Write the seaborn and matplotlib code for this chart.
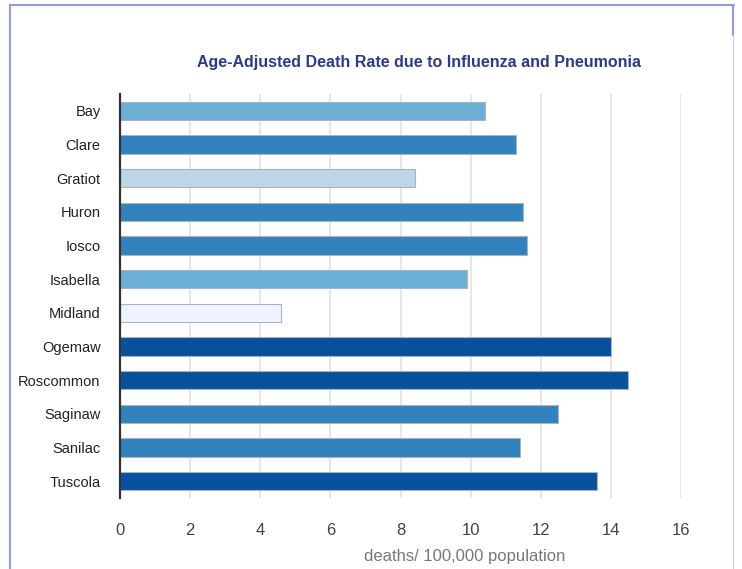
import matplotlib
matplotlib.use("Agg")
import matplotlib.pyplot as plt
import seaborn as sns
import pandas as pd
from matplotlib.lines import Line2D

counties = ["Bay", "Clare", "Gratiot", "Huron", "Iosco", "Isabella", "Midland",
            "Ogemaw", "Roscommon", "Saginaw", "Sanilac", "Tuscola"]
rates = [10.4, 11.3, 8.4, 11.5, 11.6, 9.9, 4.6, 14.0, 14.5, 12.5, 11.4, 13.6]
bar_colors = ["#6baed6", "#3182bd", "#bdd7e7", "#3182bd", "#3182bd", "#6baed6",
              "#eff3ff", "#08519c", "#08519c", "#3182bd", "#3182bd", "#08519c"]
x_ticks = [0, 2, 4, 6, 8, 10, 12, 14, 16]
title = "Age-Adjusted Death Rate due to Influenza and Pneumonia"
x_label = "deaths/ 100,000 population"

sns.set_theme(style="white")
plt.rcParams["font.family"] = ["Liberation Sans", "DejaVu Sans"]

df = pd.DataFrame({"county": counties, "rate": rates})

W, H = 742, 569
fig = plt.figure(figsize=(W / 100, H / 100), dpi=100)
fig.patch.set_facecolor("white")
ax = fig.add_axes([120 / W, 1 - 498 / H, (681 - 120) / W, (498 - 94) / H])

sns.barplot(data=df, x="rate", y="county", hue="county",
            palette=dict(zip(counties, bar_colors)), legend=False,
            orient="h", width=0.54, edgecolor="#a9b3c2", linewidth=0.8,
            saturation=1, ax=ax, zorder=3)

ax.set_xlim(0, 16)
ax.set_ylim(len(counties) - 0.5, -0.5)
ax.set_xticks(x_ticks)
ax.set_xticklabels([str(t) for t in x_ticks])
for t in x_ticks[1:]:
    ax.axvline(t, color="#e3e3e3", lw=1.2, zorder=1)

for s in ["top", "right", "bottom"]:
    ax.spines[s].set_visible(False)
ax.spines["left"].set_color("#333333")
ax.spines["left"].set_linewidth(1.6)
ax.spines["left"].set_zorder(5)

ax.tick_params(axis="y", length=0, pad=14, labelsize=10.5, labelcolor="#222222")
ax.tick_params(axis="x", length=0, pad=18, labelsize=12, labelcolor="#444444")
ax.set_ylabel("")
ax.set_xlabel(x_label, fontsize=12, color="#777777", labelpad=6)
ax.xaxis.set_label_coords(0.615, -0.125)

fig.text(419 / W, 1 - 62 / H, title, ha="center", va="center",
         fontsize=11.5, fontweight="bold", color="#2b3a8f")

# outer frame
fig.add_artist(Line2D([10 / W, 734 / W], [1 - 5 / H, 1 - 5 / H],
                      transform=fig.transFigure, color="#8e9ae6", lw=1.5))
fig.add_artist(Line2D([10 / W, 10 / W], [1 - 5 / H, 0],
                      transform=fig.transFigure, color="#8e9ae6", lw=1.5))
fig.add_artist(Line2D([733 / W, 733 / W], [1 - 5 / H, 1 - 35 / H],
                      transform=fig.transFigure, color="#8e9ae6", lw=1.5))
fig.add_artist(Line2D([733 / W, 733 / W], [1 - 35 / H, 0],
                      transform=fig.transFigure, color="#c9cff2", lw=0.8))

fig.savefig("out.png", dpi=100)
